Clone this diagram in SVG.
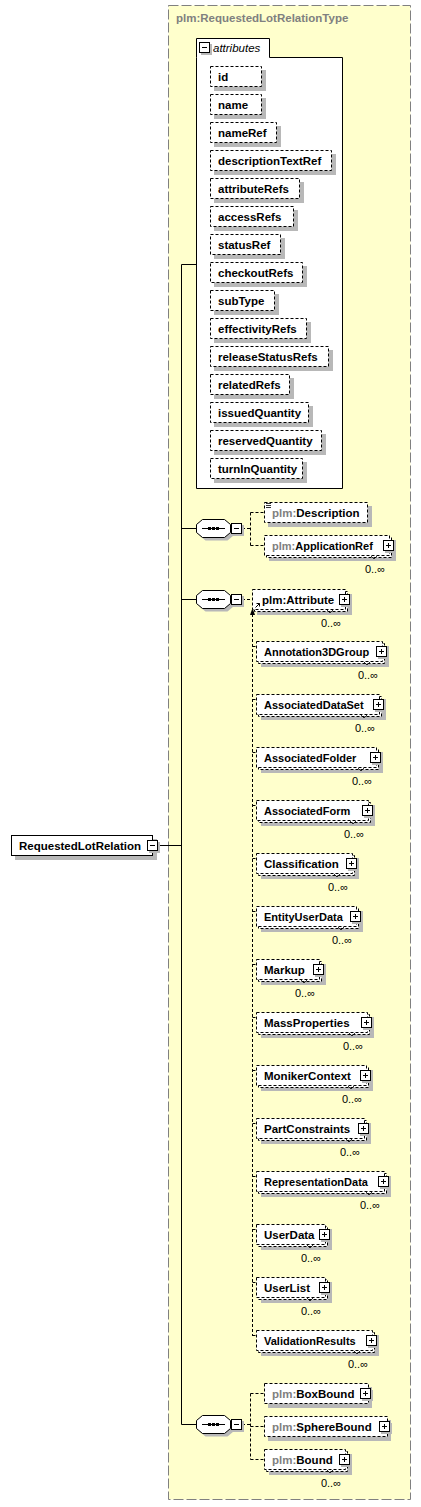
<svg xmlns="http://www.w3.org/2000/svg" width="421" height="1507" viewBox="0 0 421 1507">
<style>
text{font-family:"Liberation Sans",Arial,sans-serif;font-size:11px;fill:#000}
.a text,.big{font-size:11.5px}
.b{font-weight:bold}
.g{fill:#808080}
.i{font-style:italic}
.sh{fill:#b8b8b8}
.el{fill:#fff;stroke:#000;stroke-dasharray:3,2}
.sol{fill:#fff;stroke:#000}
.cn{fill:none;stroke:#000}
.dc{fill:none;stroke:#000;stroke-dasharray:3,2}
.m{text-anchor:end}
.v{fill:none;stroke:#000;stroke-width:0.8}
</style>
<defs>
<g id="plus"><rect x="2" y="2" width="11" height="11" class="sh"/><rect x="0.5" y="0.5" width="10" height="10" class="sol"/><path d="M3 5.5h5M5.5 3v5" stroke="#000"/></g>
<g id="minus"><rect x="2" y="2" width="11" height="11" class="sh"/><rect x="0.5" y="0.5" width="10" height="10" class="sol"/><path d="M3 5.5h5" stroke="#000"/></g>
<g id="seq">
<polygon points="3.5,-0.5 9.5,-5.5 31.5,-5.5 37.5,-0.5 37.5,7.5 31.5,12.5 9.5,12.5 3.5,7.5" class="sh"/>
<polygon points="0.5,-3.5 6.5,-8.5 28.5,-8.5 34.5,-3.5 34.5,4.5 28.5,9.5 6.5,9.5 0.5,4.5" class="sol"/>
<path d="M6 0.5H29" stroke="#000"/>
<rect x="12" y="-1" width="3" height="3"/><rect x="16" y="-1" width="3" height="3"/><rect x="20" y="-1" width="3" height="3"/>
<use href="#minus" x="35" y="-5"/>
</g>
</defs>

<rect id="typebox" x="168.5" y="5.5" width="242" height="1494" fill="#FFFFCC" stroke="#808080" stroke-dasharray="10,3"/>
<text class="b g big" x="176" y="22">plm:RequestedLotRelationType</text>

<g id="connectors">
<path class="cn" d="M158 845.5H181.5M181.5 264.5V1424.5M181.5 264.5H196M181.5 528.5H196M181.5 599.5H196M181.5 1424.5H196"/>
<path class="dc" d="M242 528.5H250.5M250.5 512.5V545.5M250.5 512.5H264M250.5 545.5H264"/>
<path class="dc" d="M242 599.5H252"/>
<path class="dc" d="M252.5 614V1336"/>
<polygon points="252.5,608 250,615 255,615" fill="#000"/>
<path class="dc" d="M252.5 646.5H256M252.5 699.5H256M252.5 752.5H256M252.5 805.5H256M252.5 858.5H256M252.5 911.5H256M252.5 964.5H256M252.5 1017.5H256M252.5 1070.5H256M252.5 1123.5H256M252.5 1176.5H256M252.5 1229.5H256M252.5 1282.5H256M252.5 1335.5H256"/>
<path class="dc" d="M242 1424.5H250.5M250.5 1393.5V1459.5M250.5 1393.5H264M250.5 1426.5H264M250.5 1459.5H264"/>
</g>

<g id="RequestedLotRelation">
<rect x="15" y="839" width="142" height="21" class="sh"/>
<rect x="11.5" y="835.5" width="141" height="20" class="sol"/>
<text class="b big" x="19" y="850">RequestedLotRelation</text>
<use href="#minus" x="147" y="840"/>
</g>

<g id="attributes" class="a">
<path d="M196.5 57.5V38.5H269.5V57.5H342.5V488.5H196.5Z" class="sol"/>
<use href="#minus" x="199" y="42"/>
<text class="i" x="213" y="52">attributes</text>
<g id="att-id"><rect class="sh" x="214" y="70" width="52" height="21"/><rect class="el" x="210.5" y="66.5" width="51" height="20"/><text class="b" x="218" y="81">id</text></g>
<g id="att-name"><rect class="sh" x="214" y="98" width="52" height="21"/><rect class="el" x="210.5" y="94.5" width="51" height="20"/><text class="b" x="218" y="109">name</text></g>
<g id="att-nameRef"><rect class="sh" x="214" y="126" width="67" height="21"/><rect class="el" x="210.5" y="122.5" width="66" height="20"/><text class="b" x="218" y="137">nameRef</text></g>
<g id="att-descriptionTextRef"><rect class="sh" x="214" y="154" width="122" height="21"/><rect class="el" x="210.5" y="150.5" width="121" height="20"/><text class="b" x="218" y="165">descriptionTextRef</text></g>
<g id="att-attributeRefs"><rect class="sh" x="214" y="182" width="90" height="21"/><rect class="el" x="210.5" y="178.5" width="89" height="20"/><text class="b" x="218" y="193">attributeRefs</text></g>
<g id="att-accessRefs"><rect class="sh" x="214" y="210" width="84" height="21"/><rect class="el" x="210.5" y="206.5" width="83" height="20"/><text class="b" x="218" y="221">accessRefs</text></g>
<g id="att-statusRef"><rect class="sh" x="214" y="238" width="71" height="21"/><rect class="el" x="210.5" y="234.5" width="70" height="20"/><text class="b" x="218" y="249">statusRef</text></g>
<g id="att-checkoutRefs"><rect class="sh" x="214" y="266" width="93" height="21"/><rect class="el" x="210.5" y="262.5" width="92" height="20"/><text class="b" x="218" y="277">checkoutRefs</text></g>
<g id="att-subType"><rect class="sh" x="214" y="294" width="65" height="21"/><rect class="el" x="210.5" y="290.5" width="64" height="20"/><text class="b" x="218" y="305">subType</text></g>
<g id="att-effectivityRefs"><rect class="sh" x="214" y="322" width="97" height="21"/><rect class="el" x="210.5" y="318.5" width="96" height="20"/><text class="b" x="218" y="333">effectivityRefs</text></g>
<g id="att-releaseStatusRefs"><rect class="sh" x="214" y="350" width="119" height="21"/><rect class="el" x="210.5" y="346.5" width="118" height="20"/><text class="b" x="218" y="361">releaseStatusRefs</text></g>
<g id="att-relatedRefs"><rect class="sh" x="214" y="378" width="80" height="21"/><rect class="el" x="210.5" y="374.5" width="79" height="20"/><text class="b" x="218" y="389">relatedRefs</text></g>
<g id="att-issuedQuantity"><rect class="sh" x="214" y="406" width="99" height="21"/><rect class="el" x="210.5" y="402.5" width="98" height="20"/><text class="b" x="218" y="417">issuedQuantity</text></g>
<g id="att-reservedQuantity"><rect class="sh" x="214" y="434" width="112" height="21"/><rect class="el" x="210.5" y="430.5" width="111" height="20"/><text class="b" x="218" y="445">reservedQuantity</text></g>
<g id="att-turnInQuantity"><rect class="sh" x="214" y="462" width="93" height="21"/><rect class="el" x="210.5" y="458.5" width="92" height="20"/><text class="b" x="218" y="473">turnInQuantity</text></g>
</g>

<g id="seq1"><use href="#seq" x="196" y="528"/></g>
<g id="seq2"><use href="#seq" x="196" y="599"/></g>
<g id="seq3"><use href="#seq" x="196" y="1424"/></g>

<g id="Description">
<rect class="sh" x="268" y="506" width="104" height="21"/>
<rect class="el" x="264.5" y="502.5" width="103" height="20"/>
<path d="M266 503.5h5M266 505.5h5M266 507.5h5" stroke="#000" stroke-width="0.8"/>
<text class="b big" x="272" y="517"><tspan class="g">plm:</tspan>Description</text>
</g>

<g id="ApplicationRef">
<rect class="sh" x="269" y="540" width="127" height="21"/>
<rect class="el" x="266.5" y="537.5" width="125" height="20"/>
<rect class="el" x="264.5" y="535.5" width="125" height="20"/>
<text class="b" x="272" y="550"><tspan class="g">plm:</tspan>ApplicationRef</text>
<use href="#plus" x="383" y="540"/>
<path class="v" d="M371 556l3 3l3-3"/>
<text class="m" x="385" y="573">0..∞</text>
</g>

<g id="Attribute">
<rect class="sh" x="257" y="594" width="95" height="21"/>
<rect class="el" x="254.5" y="591.5" width="93" height="20"/>
<rect class="el" x="252.5" y="589.5" width="93" height="20"/>
<path d="M255.5 607.5l4-4M256.5 603.5h3v3" class="cn"/>
<text class="b big" x="262" y="604">plm:Attribute</text>
<use href="#plus" x="339" y="594"/>
<path class="v" d="M327 610l3 3l3-3"/>
<text class="m" x="341" y="627">0..∞</text>
</g>

<g id="Annotation3DGroup">
<rect class="sh" x="261" y="646" width="128" height="21"/>
<rect class="el" x="258.5" y="643.5" width="126" height="20"/>
<rect class="el" x="256.5" y="641.5" width="126" height="20"/>
<text class="b" x="264" y="656">Annotation3DGroup</text>
<use href="#plus" x="376" y="646"/>
<path class="v" d="M364 662l3 3l3-3"/>
<text class="m" x="378" y="679">0..∞</text>
</g>

<g id="AssociatedDataSet">
<rect class="sh" x="261" y="699" width="125" height="21"/>
<rect class="el" x="258.5" y="696.5" width="123" height="20"/>
<rect class="el" x="256.5" y="694.5" width="123" height="20"/>
<text class="b" x="264" y="709">AssociatedDataSet</text>
<use href="#plus" x="373" y="699"/>
<path class="v" d="M361 715l3 3l3-3"/>
<text class="m" x="375" y="732">0..∞</text>
</g>

<g id="AssociatedFolder">
<rect class="sh" x="261" y="752" width="122" height="21"/>
<rect class="el" x="258.5" y="749.5" width="120" height="20"/>
<rect class="el" x="256.5" y="747.5" width="120" height="20"/>
<text class="b" x="264" y="762">AssociatedFolder</text>
<use href="#plus" x="370" y="752"/>
<path class="v" d="M358 768l3 3l3-3"/>
<text class="m" x="372" y="785">0..∞</text>
</g>

<g id="AssociatedForm">
<rect class="sh" x="261" y="805" width="114" height="21"/>
<rect class="el" x="258.5" y="802.5" width="112" height="20"/>
<rect class="el" x="256.5" y="800.5" width="112" height="20"/>
<text class="b" x="264" y="815">AssociatedForm</text>
<use href="#plus" x="362" y="805"/>
<path class="v" d="M350 821l3 3l3-3"/>
<text class="m" x="364" y="838">0..∞</text>
</g>

<g id="Classification">
<rect class="sh" x="261" y="858" width="98" height="21"/>
<rect class="el" x="258.5" y="855.5" width="96" height="20"/>
<rect class="el" x="256.5" y="853.5" width="96" height="20"/>
<text class="b big" x="264" y="868">Classification</text>
<use href="#plus" x="346" y="858"/>
<path class="v" d="M334 874l3 3l3-3"/>
<text class="m" x="348" y="891">0..∞</text>
</g>

<g id="EntityUserData">
<rect class="sh" x="261" y="911" width="102" height="21"/>
<rect class="el" x="258.5" y="908.5" width="100" height="20"/>
<rect class="el" x="256.5" y="906.5" width="100" height="20"/>
<text class="b" x="264" y="921">EntityUserData</text>
<use href="#plus" x="350" y="911"/>
<path class="v" d="M338 927l3 3l3-3"/>
<text class="m" x="352" y="944">0..∞</text>
</g>

<g id="Markup">
<rect class="sh" x="261" y="964" width="65" height="21"/>
<rect class="el" x="258.5" y="961.5" width="63" height="20"/>
<rect class="el" x="256.5" y="959.5" width="63" height="20"/>
<text class="b big" x="264" y="974">Markup</text>
<use href="#plus" x="313" y="964"/>
<path class="v" d="M301 980l3 3l3-3"/>
<text class="m" x="315" y="997">0..∞</text>
</g>

<g id="MassProperties">
<rect class="sh" x="261" y="1017" width="113" height="21"/>
<rect class="el" x="258.5" y="1014.5" width="111" height="20"/>
<rect class="el" x="256.5" y="1012.5" width="111" height="20"/>
<text class="b big" x="264" y="1027">MassProperties</text>
<use href="#plus" x="361" y="1017"/>
<path class="v" d="M349 1033l3 3l3-3"/>
<text class="m" x="363" y="1050">0..∞</text>
</g>

<g id="MonikerContext">
<rect class="sh" x="261" y="1070" width="112" height="21"/>
<rect class="el" x="258.5" y="1067.5" width="110" height="20"/>
<rect class="el" x="256.5" y="1065.5" width="110" height="20"/>
<text class="b big" x="264" y="1080">MonikerContext</text>
<use href="#plus" x="360" y="1070"/>
<path class="v" d="M348 1086l3 3l3-3"/>
<text class="m" x="362" y="1103">0..∞</text>
</g>

<g id="PartConstraints">
<rect class="sh" x="261" y="1123" width="110" height="21"/>
<rect class="el" x="258.5" y="1120.5" width="108" height="20"/>
<rect class="el" x="256.5" y="1118.5" width="108" height="20"/>
<text class="b big" x="264" y="1133">PartConstraints</text>
<use href="#plus" x="358" y="1123"/>
<path class="v" d="M346 1139l3 3l3-3"/>
<text class="m" x="360" y="1156">0..∞</text>
</g>

<g id="RepresentationData">
<rect class="sh" x="261" y="1176" width="130" height="21"/>
<rect class="el" x="258.5" y="1173.5" width="128" height="20"/>
<rect class="el" x="256.5" y="1171.5" width="128" height="20"/>
<text class="b" x="264" y="1186">RepresentationData</text>
<use href="#plus" x="378" y="1176"/>
<path class="v" d="M366 1192l3 3l3-3"/>
<text class="m" x="380" y="1209">0..∞</text>
</g>

<g id="UserData">
<rect class="sh" x="261" y="1229" width="71" height="21"/>
<rect class="el" x="258.5" y="1226.5" width="69" height="20"/>
<rect class="el" x="256.5" y="1224.5" width="69" height="20"/>
<text class="b big" x="264" y="1239">UserData</text>
<use href="#plus" x="319" y="1229"/>
<path class="v" d="M307 1245l3 3l3-3"/>
<text class="m" x="321" y="1262">0..∞</text>
</g>

<g id="UserList">
<rect class="sh" x="261" y="1282" width="71" height="21"/>
<rect class="el" x="258.5" y="1279.5" width="69" height="20"/>
<rect class="el" x="256.5" y="1277.5" width="69" height="20"/>
<text class="b big" x="264" y="1292">UserList</text>
<use href="#plus" x="319" y="1282"/>
<path class="v" d="M307 1298l3 3l3-3"/>
<text class="m" x="321" y="1315">0..∞</text>
</g>

<g id="ValidationResults">
<rect class="sh" x="261" y="1335" width="118" height="21"/>
<rect class="el" x="258.5" y="1332.5" width="116" height="20"/>
<rect class="el" x="256.5" y="1330.5" width="116" height="20"/>
<text class="b" x="264" y="1345">ValidationResults</text>
<use href="#plus" x="366" y="1335"/>
<path class="v" d="M354 1351l3 3l3-3"/>
<text class="m" x="368" y="1368">0..∞</text>
</g>

<g id="BoxBound">
<rect class="sh" x="268" y="1387" width="104" height="21"/>
<rect class="el" x="264.5" y="1383.5" width="104" height="20"/>
<text class="b big" x="272" y="1398"><tspan class="g">plm:</tspan>BoxBound</text>
<use href="#plus" x="360" y="1388"/>
</g>

<g id="SphereBound">
<rect class="sh" x="268" y="1420" width="123" height="21"/>
<rect class="el" x="264.5" y="1416.5" width="123" height="20"/>
<text class="b big" x="272" y="1431"><tspan class="g">plm:</tspan>SphereBound</text>
<use href="#plus" x="379" y="1421"/>
</g>

<g id="Bound">
<rect class="sh" x="269" y="1454" width="83" height="21"/>
<rect class="el" x="266.5" y="1451.5" width="81" height="20"/>
<rect class="el" x="264.5" y="1449.5" width="81" height="20"/>
<text class="b big" x="272" y="1464"><tspan class="g">plm:</tspan>Bound</text>
<use href="#plus" x="339" y="1454"/>
<path class="v" d="M327 1470l3 3l3-3"/>
<text class="m" x="341" y="1487">0..∞</text>
</g>
</svg>
